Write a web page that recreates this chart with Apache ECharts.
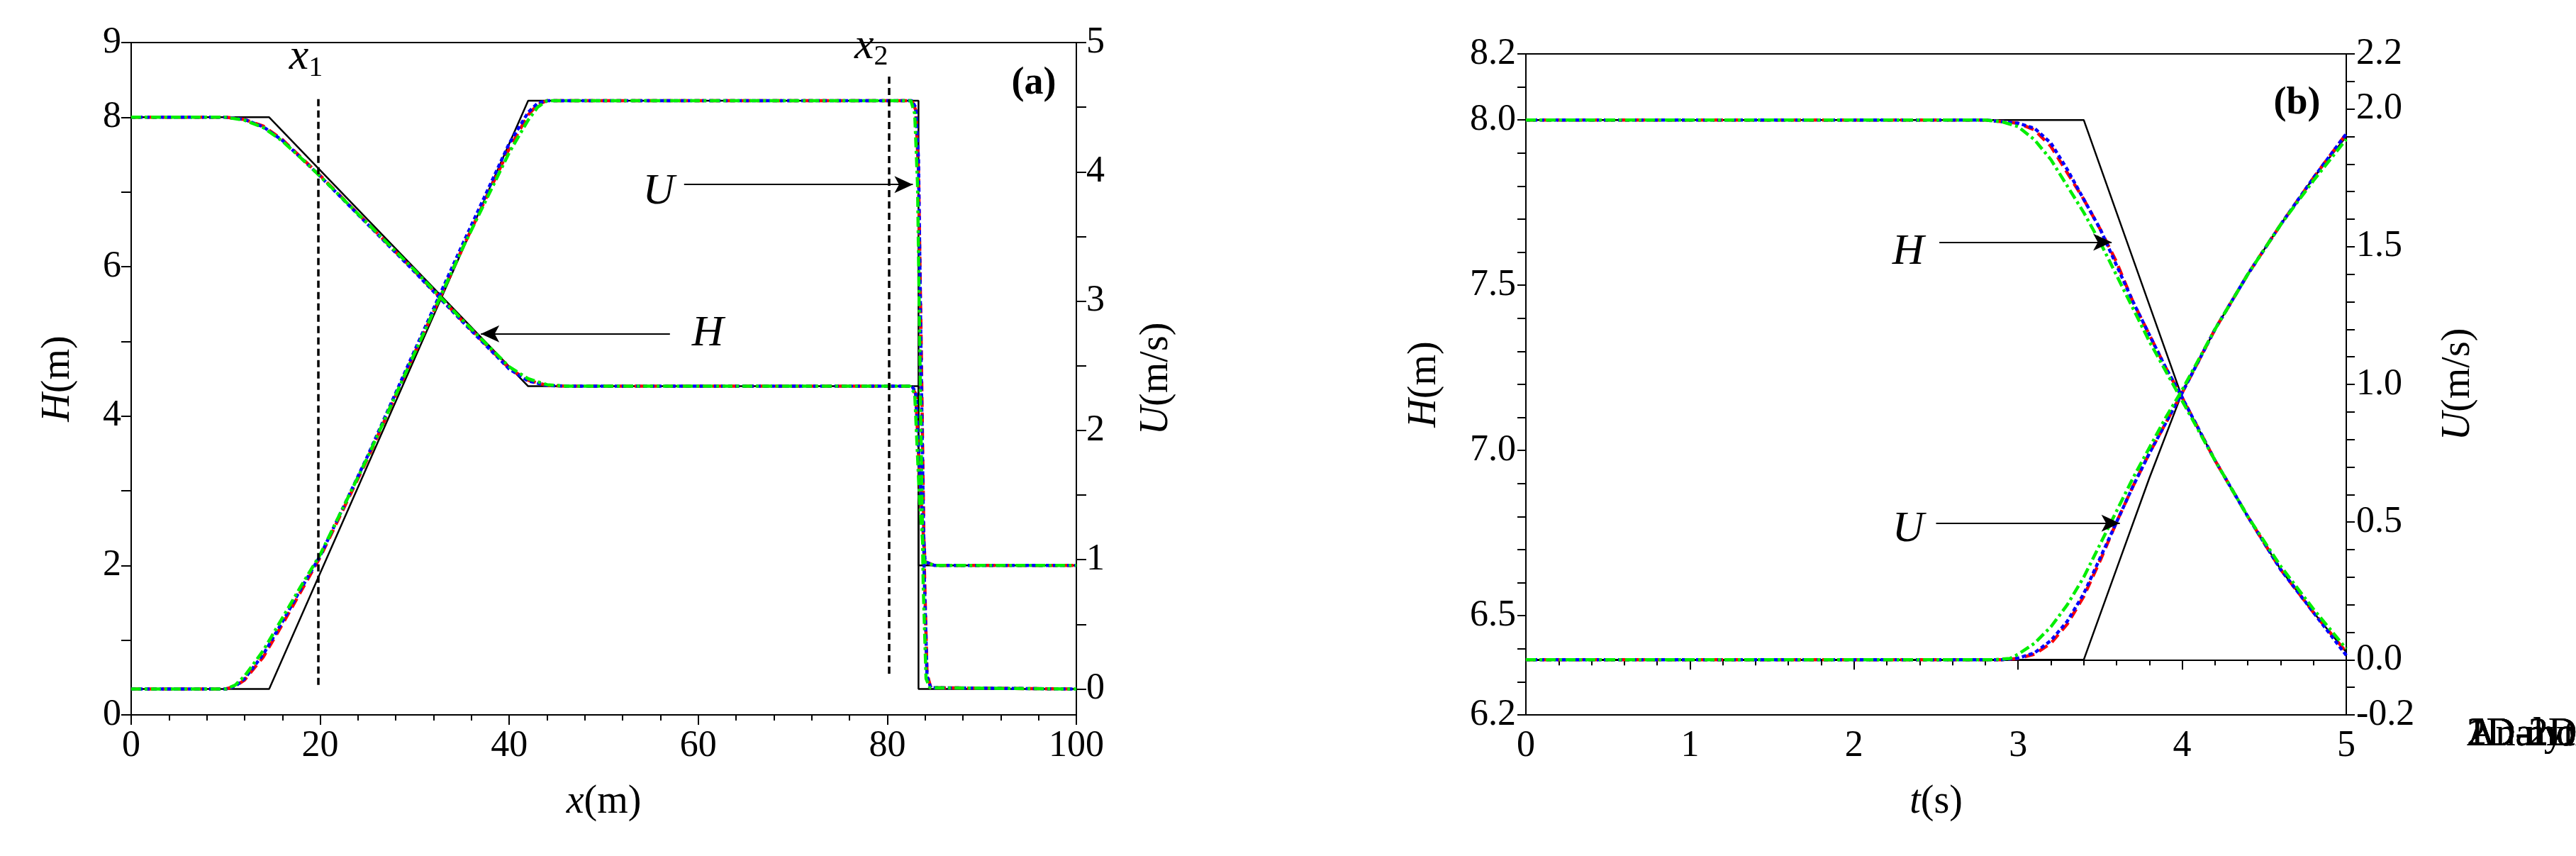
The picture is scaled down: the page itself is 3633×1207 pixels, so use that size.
<!DOCTYPE html>
<html><head><meta charset="utf-8">
<script src="https://cdn.jsdelivr.net/npm/echarts@6/dist/echarts.min.js"></script>
<style>html,body{margin:0;background:#fff}#c{width:3633px;height:1207px}</style>
</head><body><div id="c"></div>
<script>
// ---------- Panel (a) data: x (m) ----------
const aAnaH = [[0,8],[14.6,8],[42,4.4],[83.3,4.4],[83.3,2.0],[100,2.0]];
const aAnaU = [[0,0],[14.6,0],[42,4.55],[83.3,4.55],[83.3,0],[100,0]];
const a1dH = [[0,8],[10,8],[12,7.97],[14,7.88],[16,7.7],[18,7.46],[20,7.22],[25,6.58],[30,5.94],[35,5.28],[40,4.64],[42,4.48],[44,4.41],[46,4.4],[82.5,4.4],[83,4.3],[83.5,3.0],[84,2.05],[85,2.0],[100,2.0]];
const a2dH = [[0,8],[10,8],[12,7.97],[14,7.87],[16,7.69],[18,7.45],[20,7.21],[25,6.57],[30,5.93],[35,5.27],[40,4.63],[42,4.47],[44,4.41],[46,4.4],[82.6,4.4],[83,4.32],[83.5,3.1],[84,2.05],[85,2.0],[100,2.0]];
const a12H = [[0,8],[10,8],[12,7.96],[14,7.86],[16,7.68],[18,7.45],[20,7.21],[25,6.58],[30,5.95],[35,5.29],[40,4.66],[42,4.5],[44,4.42],[46,4.4],[82.4,4.4],[82.9,4.3],[83.4,2.9],[83.9,2.05],[85,2.0],[100,2.0]];
const a1dU = [[0,0],[10,0],[11,0.02],[12,0.07],[14,0.25],[16,0.5],[18,0.76],[20,1.02],[25,1.78],[30,2.6],[35,3.4],[40,4.18],[42,4.44],[43,4.52],[44,4.55],[82.6,4.55],[83,4.48],[83.3,4.0],[83.6,2.6],[83.9,1.0],[84.2,0.12],[84.6,0.01],[100,0]];
const a2dU = [[0,0],[10,0],[11,0.02],[12,0.08],[14,0.27],[16,0.52],[18,0.78],[20,1.03],[25,1.8],[30,2.62],[35,3.43],[40,4.22],[42,4.46],[43,4.53],[44,4.55],[82.6,4.55],[83,4.5],[83.3,4.1],[83.6,2.4],[83.9,0.9],[84.2,0.1],[84.6,0.01],[100,0]];
const a12U = [[0,0],[10,0],[11,0.03],[12,0.1],[14,0.3],[16,0.55],[18,0.8],[20,1.04],[25,1.79],[30,2.6],[35,3.4],[40,4.15],[42,4.4],[43,4.5],[44,4.55],[82.5,4.55],[82.9,4.45],[83.2,3.9],[83.5,2.3],[83.8,0.8],[84.1,0.08],[84.5,0.01],[100,0]];
// ---------- Panel (b) data: t (s) ----------
const bAnaH = [[0,8],[3.4,8],[3.6,7.72],[3.8,7.44],[4.0,7.16],[4.2,6.97],[4.4,6.8],[4.6,6.64],[4.8,6.51],[5,6.39]];
const bAnaU = [[0,0],[3.4,0],[3.6,0.33],[3.8,0.66],[4.0,0.97],[4.2,1.2],[4.4,1.4],[4.6,1.58],[4.8,1.75],[5,1.9]];
const b1dH = [[0,8],[2.8,8],[3.0,7.99],[3.1,7.97],[3.2,7.92],[3.3,7.84],[3.4,7.76],[3.5,7.67],[3.6,7.57],[3.7,7.45],[3.8,7.35],[3.9,7.25],[4.0,7.16],[4.2,6.97],[4.4,6.8],[4.6,6.64],[4.8,6.51],[5,6.39]];
const b2dH = [[0,8],[2.8,8],[3.0,7.99],[3.1,7.975],[3.2,7.93],[3.3,7.85],[3.4,7.76],[3.5,7.67],[3.6,7.56],[3.7,7.45],[3.8,7.35],[3.9,7.25],[4.0,7.16],[4.2,6.97],[4.4,6.8],[4.6,6.64],[4.8,6.51],[5,6.38]];
const b12H = [[0,8],[2.8,8],[2.9,7.995],[3.0,7.98],[3.1,7.94],[3.2,7.88],[3.3,7.8],[3.4,7.72],[3.5,7.63],[3.6,7.53],[3.7,7.43],[3.8,7.33],[3.9,7.24],[4.0,7.15],[4.2,6.97],[4.4,6.8],[4.6,6.65],[4.8,6.52],[5,6.40]];
const b1dU = [[0,0],[2.9,0],[3.0,0.005],[3.1,0.02],[3.2,0.06],[3.3,0.13],[3.4,0.23],[3.5,0.36],[3.6,0.5],[3.7,0.63],[3.8,0.75],[3.9,0.86],[4.0,0.97],[4.2,1.2],[4.4,1.4],[4.6,1.58],[4.8,1.75],[5,1.91]];
const b2dU = [[0,0],[2.9,0],[3.0,0.006],[3.1,0.025],[3.2,0.07],[3.3,0.14],[3.4,0.24],[3.5,0.37],[3.6,0.5],[3.7,0.63],[3.8,0.75],[3.9,0.86],[4.0,0.97],[4.2,1.2],[4.4,1.4],[4.6,1.58],[4.8,1.75],[5,1.91]];
const b12U = [[0,0],[2.85,0],[2.95,0.005],[3.0,0.02],[3.1,0.06],[3.2,0.12],[3.3,0.2],[3.4,0.3],[3.5,0.42],[3.6,0.54],[3.7,0.66],[3.8,0.77],[3.9,0.88],[4.0,0.98],[4.2,1.2],[4.4,1.4],[4.6,1.58],[4.8,1.74],[5,1.89]];
// ---------- tick labels ----------
const aLeftTicks = [0,2,4,6,8,9];
const aRightTicks = [0,1,2,3,4,5];
const bLeftLabels = [6.2,6.5,7.0,7.5,8.0,8.2];
const bRightLabels = [-0.2,0.0,0.5,1.0,1.5,2.0,2.2];
const names = ['Analytic','1D model','2D model','1D-2D model'];

const FONT = 'Liberation Serif';
const styles = {
  'Analytic': {color:'#000', width:2.5, type:'solid'},
  '1D model': {color:'#ff0000', width:4.5, type:[14,8]},
  '2D model': {color:'#0000ff', width:4.5, type:[6,4]},
  '1D-2D model': {color:'#00ee00', width:4.5, type:[14,5,4,5]}
};
function ser(name, data, xi, yi, extra){
  return Object.assign({type:'line', name, data, xAxisIndex:xi, yAxisIndex:yi, symbol:'none', showSymbol:false,
    lineStyle:styles[name], itemStyle:{color:styles[name].color}, z: name==='Analytic'?2:3, animation:false}, extra||{});
}
const tickLab = {fontFamily:FONT, fontSize:52, color:'#000'};
const nameStyle = {fontFamily:FONT, fontSize:56, color:'#000', rich:{i:{fontFamily:FONT,fontStyle:'italic',fontSize:56}}};
const axLine = {lineStyle:{color:'#000', width:2}};
const range = (a,b,s)=>{const r=[];for(let v=a;v<=b+1e-9;v+=s)r.push(+v.toFixed(3));return r;};
const arrowML = (pairs)=>({silent:true, symbol:['none','arrow'], symbolSize:[18,26], animation:false,
  lineStyle:{color:'#000', width:2, type:'solid'}, label:{show:false},
  data: pairs.map(p=>[{coord:p[0]},{coord:p[1]}])});
const dashML = (pairs)=>({silent:true, symbol:['none','none'], animation:false,
  lineStyle:{color:'#000', width:3.5, type:[10,6]}, label:{show:false},
  data: pairs.map(p=>[{coord:p[0]},{coord:p[1]}])});
const legendBase = {data:names, orient:'vertical', itemWidth:165, itemHeight:20, itemGap:36, icon:'path://M0,0L1,0',
  itemStyle:{opacity:0}, textStyle:{fontFamily:FONT, fontSize:56, color:'#000'}};

const option = {
  backgroundColor:'#fff',
  grid:[
    {left:185, right:2115, top:60, bottom:199, show:true, borderColor:'#000', borderWidth:2},
    {left:2152, right:324, top:76, bottom:199, show:true, borderColor:'#000', borderWidth:2}
  ],
  legend:[
    Object.assign({left:560, top:605}, legendBase),
    Object.assign({left:2178, top:340}, legendBase)
  ],
  xAxis:[
    {type:'value', gridIndex:0, min:0, max:100, interval:20, name:'{i|x}(m)', nameLocation:'middle', nameGap:95,
     nameTextStyle:nameStyle, axisLine:axLine, axisTick:{length:14, lineStyle:{width:2,color:'#000'}},
     minorTick:{show:true, splitNumber:5, length:8, lineStyle:{color:'#000',width:2}}, splitLine:{show:false},
     axisLabel:Object.assign({margin:18}, tickLab)},
    {type:'value', gridIndex:1, min:0, max:5, interval:1, name:'{i|t}(s)', nameLocation:'middle', nameGap:95,
     nameTextStyle:nameStyle, axisLine:axLine, axisTick:{length:14, lineStyle:{width:2,color:'#000'}},
     minorTick:{show:true, splitNumber:5, length:8, lineStyle:{color:'#000',width:2}}, splitLine:{show:false},
     axisLabel:Object.assign({margin:18}, tickLab)}
  ],
  yAxis:[
    {type:'value', gridIndex:0, min:0, max:9, interval:1, position:'left', name:'{i|H}(m)', nameLocation:'middle', nameGap:75, nameRotate:90,
     nameTextStyle:nameStyle, axisLine:axLine, splitLine:{show:false},
     axisTick:{length:14, lineStyle:{width:2,color:'#000'}, customValues:range(0,9,1)},
     axisLabel:Object.assign({margin:14, customValues:aLeftTicks}, tickLab)},
    {type:'value', gridIndex:0, min:-0.2, max:5, position:'right', name:'{i|U}(m/s)', nameLocation:'middle', nameGap:85, nameRotate:90,
     nameTextStyle:nameStyle, axisLine:axLine, splitLine:{show:false},
     axisTick:{length:14, lineStyle:{width:2,color:'#000'}, customValues:range(0,5,0.5)},
     axisLabel:Object.assign({margin:14, customValues:aRightTicks}, tickLab)},
    {type:'value', gridIndex:1, min:6.2, max:8.2, position:'left', name:'{i|H}(m)', nameLocation:'middle', nameGap:115, nameRotate:90,
     nameTextStyle:nameStyle, axisLine:axLine, splitLine:{show:false},
     axisTick:{length:12, lineStyle:{width:2,color:'#000'}, customValues:range(6.2,8.2,0.1)},
     axisLabel:Object.assign({margin:14, customValues:bLeftLabels, formatter:v=>v.toFixed(1)}, tickLab)},
    {type:'value', gridIndex:1, min:-0.2, max:2.2, position:'right', name:'{i|U}(m/s)', nameLocation:'middle', nameGap:130, nameRotate:90,
     nameTextStyle:nameStyle, axisLine:axLine, splitLine:{show:false},
     axisTick:{length:12, lineStyle:{width:2,color:'#000'}, customValues:range(-0.2,2.2,0.1)},
     axisLabel:Object.assign({margin:14, customValues:bRightLabels, formatter:v=>v.toFixed(1)}, tickLab)}
  ],
  series:[
    ser('Analytic', aAnaH, 0, 0, {markLine: arrowML([[[57,5.1],[37,5.1]],[[58.5,7.1],[82.7,7.1]]])}),
    ser('Analytic', aAnaU, 0, 1),
    ser('1D model', a1dH, 0, 0, {markLine: dashML([[[19.8,0.4],[19.8,8.3]],[[80.2,0.55],[80.2,8.55]]])}),
    ser('1D model', a1dU, 0, 1),
    ser('2D model', a2dH, 0, 0), ser('2D model', a2dU, 0, 1),
    ser('1D-2D model', a12H, 0, 0), ser('1D-2D model', a12U, 0, 1),
    ser('Analytic', bAnaH, 1, 2, {markLine: arrowML([[[2.52,7.63],[3.57,7.63]],[[2.5,6.78],[3.62,6.78]]])}),
    ser('Analytic', bAnaU, 1, 3),
    ser('1D model', b1dH, 1, 2), ser('1D model', b1dU, 1, 3),
    ser('2D model', b2dH, 1, 2), ser('2D model', b2dU, 1, 3),
    ser('1D-2D model', b12H, 1, 2), ser('1D-2D model', b12U, 1, 3)
  ]
};
const chart = echarts.init(document.getElementById('c'), null, {renderer:'canvas'});
chart.setOption(option);
const P = (g, pt) => chart.convertToPixel({gridIndex:g}, pt);
function txt(g, pt, rich, text, size, weight){
  const p = P(g, pt);
  return {type:'text', x:p[0], y:p[1], style:{text, fontFamily:FONT, fontSize:size||60, fontWeight:weight||'normal',
    fill:'#000', align:'center', verticalAlign:'middle', rich}};
}
const rich = {i:{fontFamily:FONT, fontStyle:'italic', fontSize:62}, s:{fontFamily:FONT, fontSize:40, verticalAlign:'bottom', padding:[30,0,0,0]}};
chart.setOption({graphic:[
  txt(0,[61,5.1],rich,'{i|H}'),
  txt(0,[55.8,7.0],rich,'{i|U}'),
  txt(0,[18.5,8.8],rich,'{i|x}{s|1}'),
  txt(0,[78.3,8.95],rich,'{i|x}{s|2}'),
  txt(0,[95.5,8.45],null,'(a)',54,'bold'),
  txt(1,[2.33,7.6],rich,'{i|H}'),
  txt(1,[2.33,6.76],rich,'{i|U}'),
  txt(1,[4.7,8.05],null,'(b)',54,'bold')
]});
</script></body></html>
